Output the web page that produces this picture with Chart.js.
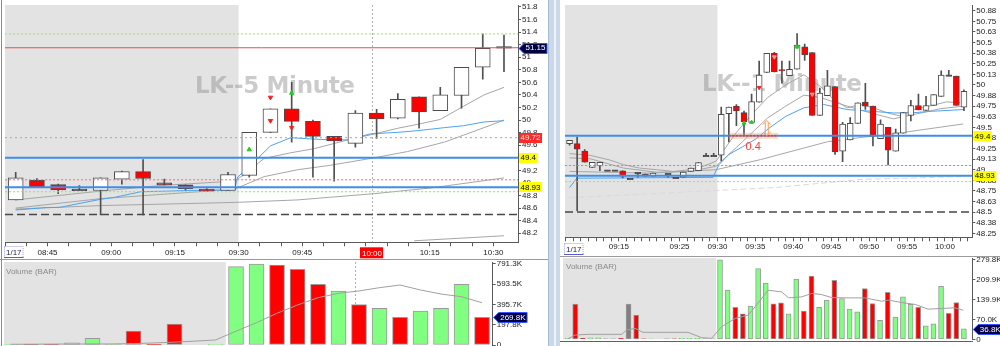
<!DOCTYPE html>
<html><head><meta charset="utf-8"><title>LK 5 Minute / 1 Minute</title>
<script src="https://cdn.jsdelivr.net/npm/chart.js@4.4.1/dist/chart.umd.min.js"></script>
<style>
html,body{margin:0;padding:0;background:#fff;}
#wrap{position:relative;width:1000px;height:346px;overflow:hidden;background:#fff;}
#wrap canvas{position:absolute;}
.ln{position:absolute;}
</style></head><body><div id="wrap">
<div class="ln" style="left:1px;top:0px;width:1px;height:346px;background:#8a8a8a"></div>
<div class="ln" style="left:0px;top:259px;width:548px;height:1px;background:#9a9a9a"></div>
<div class="ln" style="left:548px;top:0px;width:12px;height:346px;background:#c9d8ea"></div>
<div class="ln" style="left:548px;top:0px;width:1px;height:346px;background:#a9bccf"></div>
<div class="ln" style="left:554px;top:0px;width:2px;height:346px;background:#eef3f9"></div>
<div class="ln" style="left:560px;top:256px;width:440px;height:1px;background:#9a9a9a"></div>
<div class="ln" style="left:560px;top:341px;width:413px;height:1px;background:#606060"></div>
<canvas id="lp" width="548" height="259" style="left:0px;top:0px"></canvas>
<canvas id="lv" width="548" height="86" style="left:0px;top:260px"></canvas>
<canvas id="rp" width="440" height="256" style="left:560px;top:0px"></canvas>
<canvas id="rv" width="440" height="89" style="left:560px;top:257px"></canvas>
</div>
<script>
// ================= DATA : LEFT PANEL (5 minute) =================
const lpSlots = [0,1,2,3,4,5,6,7,8,9,10,11,12,13,14,15,16,17,18,19,20,21,22,23];
const lpOpen  = [48.73,49.04,48.975,48.89,48.88,49.06,49.18,49.00,48.97,48.90,48.88,49.12,49.805,50.18,49.98,49.74,49.63,50.11,50.03,50.37,50.15,50.39,50.84,51.16];
const lpHigh  = [49.17,49.07,48.98,48.96,49.08,49.19,49.37,49.06,48.97,48.91,49.17,49.805,50.18,50.60,50.00,49.74,50.15,50.17,50.42,50.37,50.52,50.84,51.37,51.35];
const lpLow   = [48.73,48.93,48.83,48.89,48.49,48.98,48.49,48.97,48.89,48.87,48.88,49.09,49.80,49.65,49.09,49.03,49.57,49.71,50.02,49.87,50.15,50.19,50.65,50.77];
const lpClose = [49.08,48.93,48.89,48.89,49.08,49.18,49.07,48.97,48.91,48.87,49.135,49.805,50.18,49.98,49.74,49.67,50.11,50.02,50.33,50.13,50.40,50.84,51.14,51.15];
const lpXTickPos = [1.5,4.5,7.5,10.5,13.5,19.5,22.5];
const lpXTickLabels = ['08:45','09:00','09:15','09:30','09:45','10:15','10:30'];
const lpYTicks = [48.2,48.4,48.6,48.8,49,49.2,49.4,49.6,49.8,50,50.2,50.4,50.6,50.8,51,51.2,51.4,51.6,51.8];
const lpYLabels = ['48.2','48.4','48.6','48.8','49','49.2','49.4','49.6','49.8','50','50.2','50.4','50.6','50.8','51','51.2','51.4','51.6','51.8'];
const lpBlueSlot = [0,1.5,2.05,4.0,4.64,5.9,7.16,8.1,10.3,10.45,11.4,12.0,12.96,13.9,14.85,15.6,16.7,18.0,18.9,20.2,21.1,22.06,23.0];
const lpBlueVal  = [48.57,48.61,48.61,48.74,48.77,48.86,48.87,48.88,48.89,49.09,49.39,49.59,49.72,49.70,49.685,49.685,49.78,49.805,49.83,49.88,49.91,49.97,49.99];
const lpFastSlot = [0,4,6.85,10.3,10.76,11.7,12.96,14.06,15.6,16.9,18.0,18.9,20.0,21.1,22.06,23.0];
const lpFastVal  = [48.73,48.87,48.96,49.03,49.13,49.39,49.48,49.545,49.68,49.78,49.87,49.93,50.01,50.22,50.40,50.52];
const lpMidSlot  = [0,4,10.3,11.7,13.28,14.8,16.9,18.46,20.2,21.1,22.06,23.0];
const lpMidVal   = [48.60,48.75,48.90,49.10,49.21,49.28,49.40,49.50,49.65,49.76,49.88,50.00];
const lpSlowSlot = [0,4,10.3,13.28,16.9,19.55,23.0];
const lpSlowVal  = [48.585,48.64,48.69,48.73,48.83,48.92,49.08];
const lpLowLineSlot = [18.77,23.0];
const lpLowLineVal  = [48.08,48.16];
const lpUpMarkSlot = [11,13];      const lpUpMarkVal = [49.53,50.43];
const lpDnMarkSlot = [12,12,13];   const lpDnMarkVal = [50.36,49.99,49.88];
const lpLastPrice = 51.15, lpPrevClose = 49.72, lpHighLevel = 49.4, lpLowLevel = 48.93;
const lpRedSolid = 51.15, lpGreenDots = [51.37,48.86], lpRedDots = 49.05, lpBlackDash = 48.5;
const lpPremarketEnd = 10.5, crossSlot = 16.78, crossLabel = '10:00';
// volume (left)
const lvVolume = [3,3,3,20,65,10,135,3,205,0,3,765,791,780,739,593,527,396,357,270,331,357,593,269.8];
const lvDir    = ['g','r','r','g','g','g','r','r','r','r','g','g','g','r','r','r','g','r','g','r','g','g','g','r'];
const lvMA     = [7,8,9,10,10,10,14,20,28,38,49,135,218,310,391,462,505,528,560,586,537,498,472,413];
const lvYTicks = [0,197.8,395.7,593.5,791.3];
const lvYLabels = ['0','197.8K','395.7K','593.5K','791.3K'];
const lvLast = 269.8;

// ================= DATA : RIGHT PANEL (1 minute) =================
const rpSlots = [0,1,2,3,4,5,6,7,8,9,10,11,13,14,15,16,17,18,19,20,21,22,23,24,25,26,27,28,29,30,31,32,33,34,35,36,37,38,39,40,41,42,43,44,45,46,47,48,49,50,51,52];
const rpOpen  = [49.307,49.307,49.219,49.027,49.046,48.99,48.99,48.988,48.891,48.961,48.949,48.923,48.949,48.905,48.911,48.98,48.988,49.162,49.162,
  49.173,49.662,49.751,49.673,49.558,49.797,50.147,50.374,50.176,50.109,50.185,50.45,50.383,49.642,49.873,49.982,49.219,49.353,49.546,49.797,49.751,49.365,49.5,49.219,49.431,49.642,49.758,49.70,49.758,49.866,50.112,50.104,49.739];
const rpHigh  = [49.346,49.385,49.238,49.088,49.088,48.99,48.99,48.988,48.891,48.961,48.949,48.961,48.949,48.905,48.972,49.018,49.084,49.192,49.192,
  49.739,49.739,49.769,49.693,49.893,50.282,50.374,50.386,50.282,50.282,50.605,50.481,50.383,49.962,50.173,49.982,49.558,49.615,49.789,50.02,49.751,49.589,49.5,49.48,49.673,49.82,49.893,49.866,49.885,50.166,50.173,50.104,49.942];
const rpLow   = [49.289,48.518,49.088,49.027,48.99,48.99,48.99,48.903,48.891,48.911,48.923,48.923,48.911,48.90,48.911,48.98,48.988,49.162,49.162,
  49.104,49.327,49.52,49.404,49.558,49.797,50.147,50.155,50.02,50.109,50.185,50.289,49.642,49.642,49.873,49.18,49.096,49.353,49.546,49.711,49.281,49.365,49.058,49.219,49.431,49.577,49.704,49.70,49.758,49.866,50.106,49.758,49.696];
const rpClose = [49.346,49.242,49.088,49.088,49.088,48.99,48.99,48.923,48.891,48.961,48.923,48.961,48.949,48.90,48.972,49.018,49.084,49.162,49.162,
  49.654,49.739,49.693,49.566,49.804,50.115,50.374,50.155,50.17,50.185,50.47,50.354,49.642,49.904,49.99,49.211,49.538,49.546,49.789,49.751,49.396,49.538,49.231,49.434,49.673,49.758,49.704,49.758,49.885,50.115,50.106,49.758,49.924];
const rpXTickPos = [6.5,14.5,19.5,24.5,29.5,34.5,39.5,44.5,49.5];
const rpXTickLabels = ['09:15','09:25','09:30','09:35','09:40','09:45','09:50','09:55','10:00'];
const rpYTicks = [48.25,48.375,48.5,48.625,48.75,48.875,49,49.125,49.25,49.375,49.5,49.625,49.75,49.875,50,50.125,50.25,50.375,50.5,50.625,50.75,50.875];
const rpYLabels = ['48.25','48.38','48.5','48.63','48.75','48.88','49','49.13','49.25','49.38','49.5','49.63','49.75','49.88','50','50.13','50.25','50.38','50.5','50.63','50.75','50.88'];
const rpBlueSlot = [0,0.97,18.9,19.7,21.0,22.8,24.6,26.3,28.5,30.9,33.5,36.6,39.7,42.7,44.9,47.9,51.9];
const rpBlueVal  = [48.79,48.90,48.91,49.06,49.18,49.27,49.365,49.49,49.63,49.73,49.77,49.71,49.69,49.67,49.67,49.69,49.71];
const rpFastSlot = [0,2.7,5.3,7.1,9.2,11.5,13.7,15.8,17.6,19.3,22.0,24.0,26.1,28.5,30.9,33.1,34.8,36.6,38.3,40.1,41.9,43.6,45.3,47.9,49.7,51.5];
const rpFastVal  = [49.19,49.17,49.115,49.06,49.02,49.0,48.98,49.0,49.04,49.1,49.44,49.65,49.85,50.0,50.12,49.98,49.83,49.73,49.77,49.73,49.67,49.635,49.71,49.76,49.80,49.79];
const rpMidSlot  = [0,2.7,7.1,11.5,15.8,19.3,22.8,26.1,28.5,30.9,33.1,36.6,39.7,42.7,45.3,48.9,51.9];
const rpMidVal   = [49.14,49.13,49.02,48.97,48.98,49.04,49.33,49.61,49.75,49.88,49.85,49.75,49.67,49.60,49.65,49.72,49.75];
const rpSlowSlot = [0,10.8,19.3,25.2,34.0,38.4,44.0,51.9];
const rpSlowVal  = [48.98,48.96,49.0,49.12,49.33,49.38,49.44,49.54];
const rpFaintSlot = [0,27.2,38.4,51.9];
const rpFaintVal  = [48.67,48.79,48.885,48.92];
const rpUpMarkSlot = [23,24];  const rpUpMarkVal = [49.55,49.56];
const rpDnMarkSlot = [25];     const rpDnMarkVal = [49.97];
const rpVMarkSlot = [27,32];   const rpVMarkVal = [50.33,49.89];
const rpSqMarkSlot = [30];     const rpSqMarkVal = [50.45];
const rpHighLevel = 49.4, rpLowLevel = 48.93, rpRedDots = 49.05, rpGreenDots = 48.86, rpBlackDash = 48.5;
const rpPremarketEnd = 19.5;
const rpTargetFrom = 21, rpTargetTo = 27.5, rpArrowSlot = 26, rpArrowTop = 49.58, rpTargetText = '0.4';
// volume (right)
const rvVolume = [3,123.6,3,5,5,2,2,3,124,85,2,2,2,2,3,3,3,2,2,
  279.8,172.6,112,89.6,116.6,248.5,198,124.6,128,89.6,212,99,222.6,112,137.6,207.5,143.5,106,96.6,178.5,126,66.5,165.5,78,149,122.5,112,47.6,54.6,186.6,91,129.5,36.8];
const rvDir = ['g','r','r','g','g','x','x','r','x','r','r','g','x','r','g','g','g','x','x',
  'g','g','r','r','g','g','g','r','r','g','g','r','r','g','g','r','g','g','g','r','r','g','r','g','g','g','r','g','g','g','r','r','g'];
const rvMASlot = [0,1.0,2.7,7.1,7.75,8.85,9.9,15.8,17.6,18.9,20.2,22.0,23.7,24.6,26.3,28.1,29.0,30.7,32.0,33.3,34.6,36.4,39.0,41.2,42.1,43.8,45.6,47.3,49.1,50.8,51.9];
const rvMAVal  = [1,15,17.5,17.5,32.5,38.5,24.5,24.5,5.6,3.5,44,73.5,85,114,172.5,166.6,145.6,149,161,157.5,147,145.6,145.6,134,137.5,129.5,122.5,106,108.5,110.6,102.5];
const rvYTicks = [0,70.0,139.9,209.9,279.8];
const rvYLabels = ['0','70.0K','139.9K','209.9K','279.8K'];
const rvLast = 36.8;

// ================= HELPERS =================
const FONT = '"Liberation Sans", Arial, Helvetica, sans-serif';
Chart.defaults.font.family = FONT;
Chart.defaults.font.size = 8;
Chart.defaults.color = '#222';
const AX = '#5a5a5a';
const pts = (xs, ys) => xs.map((x, i) => ({x, y: ys[i]}));
const flat = (a, b, v) => [{x: a, y: v}, {x: b, y: v}];
const UPC = '#80ff80', DNC = '#ff0000', NC = '#808080';

function candleSets(slots, O, H, L, C, bodyW, minH) {
  const wick = [], body = [], fill = [];
  slots.forEach((s, i) => {
    wick.push({x: s, y: [L[i], H[i]]});
    let a = Math.min(O[i], C[i]), b = Math.max(O[i], C[i]);
    if (b - a < minH) { const m = (a + b) / 2; a = m - minH / 2; b = m + minH / 2; }
    body.push({x: s, y: [a, b]});
    fill.push(C[i] > O[i] ? '#ffffff' : (C[i] < O[i] ? '#ff0000' : '#404040'));
  });
  return [
    {type: 'bar', data: wick, backgroundColor: '#505050', borderWidth: 0, barThickness: 1, grouped: false, order: 6},
    {type: 'bar', data: body, backgroundColor: fill, borderColor: '#4a4a4a', borderWidth: 1, borderSkipped: false, barThickness: bodyW, grouped: false, order: 5}
  ];
}
function lineSet(data, color, width, dash, order) {
  return {type: 'line', data, borderColor: color, borderWidth: width, borderDash: dash || [], pointRadius: 0, tension: 0, fill: false, order: order};
}
function markSet(data, color, style, rot, r, border) {
  return {type: 'line', data, showLine: false, pointStyle: style, pointRotation: rot, pointRadius: r,
    pointBackgroundColor: color, pointBorderColor: border || color, pointBorderWidth: 1, order: 0};
}
function xScale(min, max, tickVals, pos, labs, height, tpad) {
  return {
    type: 'linear', min, max, offset: false,
    afterBuildTicks: s => { s.ticks = tickVals.map(v => ({value: v})); },
    afterFit: s => { s.height = height; s.paddingLeft = 0; s.paddingRight = 0; },
    grid: {drawOnChartArea: false, drawTicks: true, tickLength: 4, color: AX, offset: false},
    border: {display: true, color: AX},
    ticks: {autoSkip: false, maxRotation: 0, minRotation: 0, padding: tpad, color: '#222', font: {size: 8},
      callback: v => { const k = pos.findIndex(p => Math.abs(p - v) < 1e-6); return k >= 0 ? labs[k] : ''; }}
  };
}
function hiddenX(min, max) {
  return {type: 'linear', min, max, offset: false, display: false, grid: {offset: false}};
}
function yScale(min, max, vals, labs, width) {
  return {
    type: 'linear', position: 'right', min, max,
    afterBuildTicks: s => { s.ticks = vals.map(v => ({value: v})); },
    afterFit: s => { s.width = width; s.paddingTop = 0; s.paddingBottom = 0; },
    grid: {drawOnChartArea: false, drawTicks: true, tickLength: 3, color: AX},
    border: {display: true, color: AX},
    ticks: {autoSkip: false, padding: 1, color: '#222', font: {size: 8},
      callback: v => { const k = vals.findIndex(p => Math.abs(p - v) < 1e-9); return k >= 0 ? labs[k] : ''; }}
  };
}
function baseOptions(pad, scales) {
  return {responsive: false, maintainAspectRatio: false, animation: false, devicePixelRatio: 1, events: [],
    layout: {padding: pad}, plugins: {legend: {display: false}, tooltip: {enabled: false}}, scales};
}
function shade(c, endVal) {
  const {ctx, chartArea: a, scales: {x}} = c;
  const xe = Math.min(a.right, x.getPixelForValue(endVal));
  ctx.save(); ctx.fillStyle = '#e3e3e3'; ctx.fillRect(a.left, a.top, xe - a.left, a.bottom - a.top); ctx.restore();
}
function watermark(ctx, text, x, y, width) {
  ctx.save();
  ctx.font = 'bold 23px "DejaVu Sans", Verdana, sans-serif';
  const w = ctx.measureText(text).width;
  if ('letterSpacing' in ctx) ctx.letterSpacing = ((width - w) / (text.length - 1)).toFixed(2) + 'px';
  ctx.fillStyle = 'rgba(140,140,140,0.45)'; ctx.textBaseline = 'alphabetic'; ctx.textAlign = 'left';
  ctx.fillText(text, x, y); ctx.restore();
}
function crosshair(c, val) {
  const {ctx, chartArea: a, scales: {x}} = c;
  const px = Math.round(x.getPixelForValue(val)) + 0.5;
  ctx.save(); ctx.strokeStyle = '#b0b0b0'; ctx.lineWidth = 1; ctx.setLineDash([2, 2]);
  ctx.beginPath(); ctx.moveTo(px, a.top); ctx.lineTo(px, a.bottom); ctx.stroke(); ctx.restore();
}
function boxTag(ctx, x, y, text, bg, fg) {
  ctx.save(); ctx.font = '8px ' + FONT;
  const w = ctx.measureText(text).width + 3, h = 10;
  ctx.fillStyle = bg; ctx.fillRect(x, Math.round(y - h / 2), w, h);
  ctx.fillStyle = fg; ctx.textBaseline = 'middle'; ctx.textAlign = 'left'; ctx.fillText(text, x + 1.5, y + 0.5);
  ctx.restore();
}
function arrowTag(ctx, x, y, text) {
  ctx.save(); ctx.font = '8px ' + FONT;
  const w = ctx.measureText(text).width + 3, h = 10, t = Math.round(y - h / 2) + 0.5;
  ctx.beginPath(); ctx.moveTo(x, t + h / 2); ctx.lineTo(x + 5, t); ctx.lineTo(x + 5 + w, t); ctx.lineTo(x + 5 + w, t + h);
  ctx.lineTo(x + 5, t + h); ctx.closePath();
  ctx.fillStyle = '#000040'; ctx.fill(); ctx.strokeStyle = '#3355ff'; ctx.lineWidth = 1; ctx.stroke();
  ctx.fillStyle = '#ffffff'; ctx.textBaseline = 'middle'; ctx.textAlign = 'left'; ctx.fillText(text, x + 6.5, y + 0.5);
  ctx.restore();
}
function dateBox(ctx, x, y, text) {
  ctx.save(); ctx.font = '8px ' + FONT;
  const w = ctx.measureText(text).width + 3;
  ctx.strokeStyle = '#9a9ae8'; ctx.lineWidth = 1; ctx.setLineDash([1, 1]);
  ctx.strokeRect(x + 0.5, y + 0.5, w, 11);
  ctx.setLineDash([]); ctx.strokeStyle = '#5b5bd6'; ctx.beginPath(); ctx.moveTo(x, y + 11.5); ctx.lineTo(x + w + 1, y + 11.5); ctx.stroke();
  ctx.fillStyle = '#222244'; ctx.textBaseline = 'middle'; ctx.fillText(text, x + 2, y + 6.5);
  ctx.restore();
}
function panelLabel(ctx, text, x, y) {
  ctx.save(); ctx.font = '8px ' + FONT; ctx.fillStyle = '#8a8a8a'; ctx.textBaseline = 'middle'; ctx.fillText(text, x, y); ctx.restore();
}

// ================= LEFT PRICE =================
const lpXMin = -0.504, lpXMax = 23.66;
const lpTicksAll = lpSlots.map(s => s - 0.5);
new Chart(document.getElementById('lp'), {
  type: 'bar',
  data: {datasets: [
    ...candleSets(lpSlots, lpOpen, lpHigh, lpLow, lpClose, 15, 0.025),
    lineSet(pts(lpBlueSlot, lpBlueVal), '#4da3f0', 1, null, 10),
    lineSet(pts(lpFastSlot, lpFastVal), '#a6a6a6', 1, null, 10),
    lineSet(pts(lpMidSlot, lpMidVal), '#a6a6a6', 1, null, 10),
    lineSet(pts(lpSlowSlot, lpSlowVal), '#a6a6a6', 1, null, 10),
    lineSet(pts(lpLowLineSlot, lpLowLineVal), '#a6a6a6', 1, null, 10),
    lineSet(flat(lpXMin, lpXMax, lpRedSolid), '#e05050', 1, null, 2),
    lineSet(flat(lpXMin, lpXMax, lpGreenDots[0]), '#9be070', 1, [2, 2], 2),
    lineSet(flat(lpXMin, lpXMax, lpGreenDots[1]), '#9be070', 1, [2, 2], 2),
    lineSet(flat(lpXMin, lpXMax, lpPrevClose), '#a8a8a8', 1, [2, 3], 2),
    lineSet(flat(lpXMin, lpXMax, lpRedDots), '#ff7070', 1, [2, 2], 2),
    lineSet(flat(lpXMin, lpXMax, lpBlackDash), '#484848', 1.5, [8, 4], 2),
    lineSet(flat(lpXMin, lpXMax, lpHighLevel), '#3d8fe6', 2, null, 1),
    lineSet(flat(lpXMin, lpXMax, lpLowLevel), '#3d8fe6', 2, null, 1),
    markSet(pts(lpUpMarkSlot, lpUpMarkVal), '#22cc22', 'triangle', 0, 2.5),
    markSet(pts(lpDnMarkSlot, lpDnMarkVal), '#ee2222', 'triangle', 180, 2.5)
  ]},
  options: baseOptions({left: 4, right: 0, top: 0, bottom: 0}, {
    x: xScale(lpXMin, lpXMax, lpTicksAll, lpXTickPos, lpXTickLabels, 16.7, 2),
    y: yScale(48.056, 51.83, lpYTicks, lpYLabels, 30)
  }),
  plugins: [{
    id: 'lpDeco',
    beforeDraw: c => shade(c, lpPremarketEnd),
    beforeDatasetsDraw: c => { watermark(c.ctx, 'LK--5 Minute', 195, 93, 160); crosshair(c, crossSlot); },
    afterDraw: c => {
      const {ctx, chartArea: a, scales: {x, y}} = c;
      boxTag(ctx, a.right + 1, y.getPixelForValue(lpPrevClose), '49.72', '#ff2b2b', '#ffe6e6');
      boxTag(ctx, a.right + 1, y.getPixelForValue(lpHighLevel), '49.4', '#ffff00', '#000');
      boxTag(ctx, a.right + 1, y.getPixelForValue(lpLowLevel), '48.93', '#ffff00', '#000');
      arrowTag(ctx, a.right + 1, y.getPixelForValue(lpLastPrice), '51.15');
      const cx = x.getPixelForValue(crossSlot);
      ctx.save(); ctx.font = '8px ' + FONT; const w = ctx.measureText(crossLabel).width + 3;
      ctx.fillStyle = '#ff0000'; ctx.fillRect(Math.round(cx - w / 2), a.bottom + 5, w, 11);
      ctx.fillStyle = '#fff'; ctx.textAlign = 'center'; ctx.textBaseline = 'middle'; ctx.fillText(crossLabel, cx, a.bottom + 11);
      ctx.restore();
      dateBox(ctx, 4, 246, '1/17');
    }
  }]
});

// ================= LEFT VOLUME =================
const lvXMin = -0.317, lvXMax = 23.52;
new Chart(document.getElementById('lv'), {
  type: 'bar',
  data: {datasets: [
    {type: 'bar', data: pts(lpSlots, lvVolume), backgroundColor: lvDir.map(d => d === 'g' ? UPC : d === 'r' ? DNC : NC),
      borderColor: '#9a9a9a', borderWidth: 1, borderSkipped: false, barThickness: 15, grouped: false, order: 5},
    lineSet(pts(lpSlots, lvMA), '#a0a0a0', 1, null, 0)
  ]},
  options: baseOptions({left: 4, right: 0, top: 2, bottom: 1}, {
    x: hiddenX(lvXMin, lvXMax),
    y: yScale(0, 810.8, lvYTicks, lvYLabels, 55.3)
  }),
  plugins: [{
    id: 'lvDeco',
    beforeDraw: c => shade(c, lpPremarketEnd),
    beforeDatasetsDraw: c => { panelLabel(c.ctx, 'Volume (BAR)', 6, 12); crosshair(c, crossSlot); },
    afterDraw: c => { const {ctx, chartArea: a, scales: {y}} = c; arrowTag(ctx, a.right + 1, y.getPixelForValue(lvLast), '269.8K'); }
  }]
});

// ================= RIGHT PRICE =================
const rpXMin = -0.6, rpXMax = 53.1;
const rpTicksAll = []; for (let s = 0; s <= 53; s++) rpTicksAll.push(s - 0.5);
new Chart(document.getElementById('rp'), {
  type: 'bar',
  data: {datasets: [
    ...candleSets(rpSlots, rpOpen, rpHigh, rpLow, rpClose, 6, 0.018),
    lineSet(pts(rpBlueSlot, rpBlueVal), '#4da3f0', 1, null, 10),
    lineSet(pts(rpFastSlot, rpFastVal), '#a6a6a6', 1, null, 10),
    lineSet(pts(rpMidSlot, rpMidVal), '#a6a6a6', 1, null, 10),
    lineSet(pts(rpSlowSlot, rpSlowVal), '#a6a6a6', 1, null, 10),
    lineSet(pts(rpFaintSlot, rpFaintVal), '#dadada', 1, [6, 3], 10),
    lineSet(flat(rpXMin, rpXMax, rpGreenDots), '#9be070', 1, [2, 2], 2),
    lineSet(flat(rpXMin, rpXMax, rpRedDots), '#ff7070', 1, [2, 2], 2),
    lineSet(flat(rpXMin, rpXMax, rpBlackDash), '#484848', 1.5, [8, 4], 2),
    lineSet(flat(rpXMin, rpXMax, rpHighLevel), '#3d8fe6', 2, null, 1),
    lineSet(flat(rpXMin, rpXMax, rpLowLevel), '#3d8fe6', 2, null, 1),
    markSet(pts(rpUpMarkSlot, rpUpMarkVal), '#22cc22', 'triangle', 0, 2.2),
    markSet(pts(rpDnMarkSlot, rpDnMarkVal), '#ee2222', 'triangle', 180, 2.2),
    markSet(pts(rpVMarkSlot, rpVMarkVal), 'rgba(255,255,255,0.5)', 'triangle', 180, 2.2, '#ffb0b0'),
    markSet(pts(rpSqMarkSlot, rpSqMarkVal), '#22cc22', 'rect', 0, 2)
  ]},
  options: baseOptions({left: 3, right: 0, top: 0, bottom: 0}, {
    x: xScale(rpXMin, rpXMax, rpTicksAll, rpXTickPos, rpXTickLabels, 18.7, 1),
    y: yScale(48.203, 50.943, rpYTicks, rpYLabels, 27.7)
  }),
  plugins: [{
    id: 'rpDeco',
    beforeDraw: c => shade(c, rpPremarketEnd),
    beforeDatasetsDraw: c => { watermark(c.ctx, 'LK--1 Minute', 142, 91, 160); },
    afterDatasetsDraw: c => {
      const {ctx, scales: {x, y}} = c;
      const yl = y.getPixelForValue(rpHighLevel), x0 = x.getPixelForValue(rpTargetFrom), x1 = x.getPixelForValue(rpTargetTo);
      ctx.save();
      ctx.fillStyle = 'rgba(255,150,80,0.35)'; ctx.fillRect(x0, yl - 3, x1 - x0, 6);
      ctx.strokeStyle = '#ff2a2a'; ctx.lineWidth = 1.5; ctx.setLineDash([2, 1.5]);
      ctx.beginPath(); ctx.moveTo(x0, yl); ctx.lineTo(x1, yl); ctx.stroke(); ctx.setLineDash([]);
      const ax = x.getPixelForValue(rpArrowSlot), at = y.getPixelForValue(rpArrowTop);
      ctx.strokeStyle = '#ff9a50'; ctx.lineWidth = 1;
      [-1.5, 1.5].forEach(o => { ctx.beginPath(); ctx.moveTo(ax + o, at + 2); ctx.lineTo(ax + o, yl - 2); ctx.stroke(); });
      ctx.beginPath(); ctx.moveTo(ax - 4, at + 4); ctx.lineTo(ax, at); ctx.lineTo(ax + 4, at + 4);
      ctx.moveTo(ax - 4, yl - 4); ctx.lineTo(ax, yl); ctx.lineTo(ax + 4, yl - 4); ctx.stroke();
      ctx.font = '11px ' + FONT; ctx.fillStyle = '#ff3b3b'; ctx.textAlign = 'center'; ctx.textBaseline = 'middle';
      ctx.fillText(rpTargetText, x.getPixelForValue(rpTargetFrom + 3.2), yl + 11);
      ctx.restore();
    },
    afterDraw: c => {
      const {ctx, chartArea: a, scales: {y}} = c;
      boxTag(ctx, a.right + 1, y.getPixelForValue(rpHighLevel), '49.4', '#ffff00', '#000');
      boxTag(ctx, a.right + 1, y.getPixelForValue(rpLowLevel), '48.93', '#ffff00', '#000');
      dateBox(ctx, 4, 243, '1/17');
    }
  }]
});

// ================= RIGHT VOLUME =================
new Chart(document.getElementById('rv'), {
  type: 'bar',
  data: {datasets: [
    {type: 'bar', data: pts(rpSlots, rvVolume), backgroundColor: rvDir.map(d => d === 'g' ? UPC : d === 'r' ? DNC : NC),
      borderColor: '#9a9a9a', borderWidth: 1, borderSkipped: false, barThickness: 5, grouped: false, order: 5},
    lineSet(pts(rvMASlot, rvMAVal), '#a0a0a0', 1, null, 0)
  ]},
  options: baseOptions({left: 3, right: 0, top: 1, bottom: 6.7}, {
    x: hiddenX(rpXMin, rpXMax),
    y: yScale(0, 285.8, rvYTicks, rvYLabels, 27.7)
  }),
  plugins: [{
    id: 'rvDeco',
    beforeDraw: c => shade(c, rpPremarketEnd),
    beforeDatasetsDraw: c => panelLabel(c.ctx, 'Volume (BAR)', 6, 10),
    afterDraw: c => { const {ctx, chartArea: a, scales: {y}} = c; arrowTag(ctx, a.right + 1, y.getPixelForValue(rvLast), '36.8K'); }
  }]
});
</script></body></html>
